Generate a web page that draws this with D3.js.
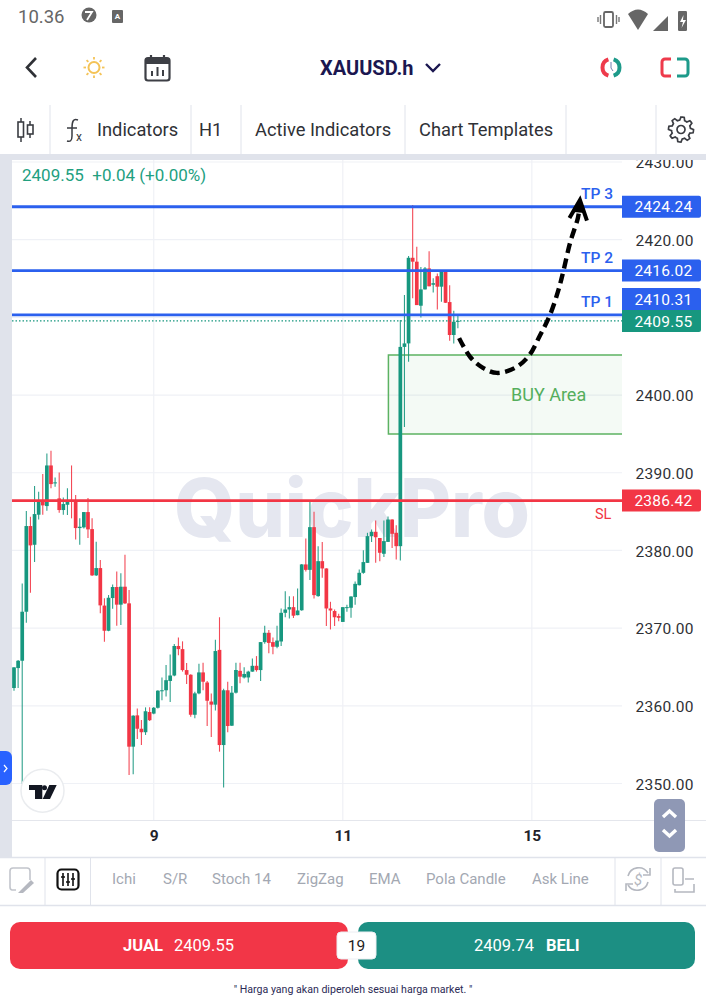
<!DOCTYPE html>
<html><head><meta charset="utf-8">
<script src="https://cdn.jsdelivr.net/npm/d3@7/dist/d3.min.js"></script>
<style>html,body{margin:0;padding:0;background:#fff}svg{display:block;font-family:Roboto,sans-serif}</style>
</head><body><svg id="c" width="706" height="1006"></svg>
<script>
const opens=[2362.29,2364.86,2365.8,2372.11,2383.14,2380.73,2384.6,2386.4,2385.71,2390.94,2388.7,2386.7,2385.2,2385.88,2386.5,2386.48,2382.88,2382.97,2384.94,2382.75,2376.79,2377.73,2372.9,2369.66,2373.87,2375.29,2373.02,2375.33,2373.19,2354.74,2358.77,2357.05,2356.6,2359.2,2359.0,2359.75,2361.95,2362.0,2363.2,2363.9,2367.7,2367.3,2364.6,2364.0,2358.85,2361.6,2364.3,2363.0,2360.55,2360.15,2367.2,2354.95,2362.0,2357.44,2361.69,2364.5,2363.65,2363.65,2364.4,2365.15,2364.6,2368.2,2369.4,2368.2,2367.6,2368.28,2371.97,2372.4,2372.7,2371.67,2372.3,2378.2,2377.5,2383.0,2374.12,2378.62,2377.68,2372.53,2372.2,2371.55,2370.8,2372.6,2372.62,2374.0,2375.53,2377.12,2378.4,2381.84,2382.4,2381.6,2379.57,2381.1,2383.98,2382.27,2380.55,2406.2,2406.65,2417.67,2417.17,2411.5,2413.6,2416.3,2414.2,2415.3,2413.95,2415.95,2411.97,2407.73,2409.51];
const highs=[2364.95,2365.9,2375.76,2385.07,2384.34,2388.28,2387.55,2389.83,2392.49,2392.83,2389.4,2390.04,2386.83,2388.0,2390.94,2387.12,2384.13,2384.94,2386.74,2384.13,2381.12,2378.76,2373.84,2374.26,2375.6,2377.3,2377.05,2379.45,2374.9,2358.8,2359.67,2358.17,2359.8,2359.8,2359.85,2362.0,2363.66,2365.25,2366.6,2367.95,2368.8,2368.3,2365.5,2364.05,2361.8,2365.4,2365.55,2363.2,2361.6,2368.5,2371.4,2362.2,2363.1,2362.55,2365.55,2365.55,2364.95,2364.5,2366.1,2366.4,2368.2,2370.3,2369.75,2368.8,2370.3,2372.53,2374.76,2374.1,2374.1,2375.1,2378.25,2381.54,2386.43,2384.97,2380.55,2381.07,2377.7,2373.39,2372.4,2371.85,2372.7,2373.0,2374.1,2376.0,2377.55,2380.04,2382.27,2382.7,2383.86,2381.6,2383.86,2384.37,2384.0,2383.25,2409.65,2412.87,2417.9,2424.45,2419.1,2416.5,2416.5,2418.5,2415.05,2415.65,2416.1,2416.0,2414.15,2410.85,2410.2];
const lows=[2361.94,2362.29,2349.93,2370.7,2374.56,2378.5,2383.99,2384.6,2385.11,2388.0,2388.2,2384.86,2384.6,2384.56,2384.13,2381.42,2380.73,2382.83,2381.6,2376.7,2376.7,2371.9,2368.25,2369.6,2372.5,2370.3,2370.4,2373.1,2351.1,2351.18,2355.72,2354.95,2356.25,2358.05,2358.9,2359.65,2360.7,2361.2,2360.5,2363.8,2366.5,2364.4,2362.8,2358.6,2358.4,2361.5,2362.0,2357.4,2356.0,2359.4,2354.1,2349.5,2356.6,2357.4,2361.6,2362.9,2363.5,2363.0,2364.4,2364.4,2363.2,2368.0,2366.75,2366.65,2367.4,2367.7,2371.4,2371.25,2371.3,2371.67,2372.25,2377.3,2376.18,2373.8,2374.03,2376.48,2370.26,2369.83,2370.26,2370.9,2370.8,2372.1,2371.33,2373.0,2375.5,2377.0,2378.4,2381.1,2378.4,2378.6,2379.14,2381.1,2380.3,2378.84,2378.7,2395.9,2404.3,2412.45,2411.58,2410.0,2413.6,2414.0,2413.2,2411.0,2412.0,2411.85,2407.0,2406.65,2408.6];
const closes=[2364.95,2365.8,2372.11,2383.14,2380.65,2384.68,2386.4,2385.8,2390.94,2388.54,2388.76,2385.2,2385.97,2386.48,2386.3,2382.88,2383.05,2384.94,2382.71,2376.79,2377.73,2372.93,2369.66,2373.91,2375.29,2373.02,2375.33,2373.19,2354.74,2358.73,2357.05,2356.6,2359.3,2358.15,2359.75,2361.95,2362.0,2363.3,2363.9,2367.7,2367.3,2364.6,2364.0,2358.85,2361.6,2364.3,2363.1,2360.65,2360.15,2367.05,2354.95,2362.0,2357.4,2361.69,2364.61,2363.75,2364.1,2364.4,2365.15,2364.6,2368.2,2369.4,2368.1,2367.6,2368.4,2371.97,2372.4,2372.7,2371.6,2372.27,2378.2,2377.5,2383.0,2374.25,2378.62,2377.68,2372.53,2372.27,2371.4,2371.33,2372.7,2372.7,2374.07,2375.7,2377.12,2378.5,2381.84,2382.4,2381.7,2379.7,2381.2,2383.98,2382.14,2380.55,2406.2,2406.65,2417.67,2417.17,2411.58,2413.6,2416.3,2414.0,2414.4,2413.95,2415.95,2411.88,2407.73,2409.44,2409.55];

const priceTicks=[2350,2360,2370,2380,2390,2400,2410,2420,2430];
const priceLabels=[2350,2360,2370,2380,2390,2400,2420,2430];
const dayTicks=[34,80,126];
const dayLabels=["9","11","15"];
const levelPrices=[2424.24,2416.02,2410.31];
const levelNames=["TP 3","TP 2","TP 1"];
const slPrice=2386.42, lastPrice=2409.55;
const buyZone=[2395,2405.15];
const buyZoneStart=91.1;
const pathIdx=[108.3,111,114.1,117.5,121.9,125.2,128,130.4,132.4,133.6,135.3,137.2,137.7];
const pathPrice=[2407.33,2404.9,2403.5,2402.85,2403.5,2405,2407.7,2410.3,2413.4,2415.8,2419.6,2422.8,2424.45];
const stripItems=["Ichi","S/R","Stoch 14","ZigZag","EMA","Pola Candle","Ask Line"];
const stripX=[112,163,212,297,369,426,532];
const topTabs=["Indicators","H1","Active Indicators","Chart Templates"];
const topTabX=[97,199,255,419];

const GREEN="#17977f",RED="#f23645",BLUE="#2b60ee",AXIS="#2f3136",LINE="#e0e3eb";
const svg=d3.select("#c");
const defs=svg.append("defs");
defs.append("clipPath").attr("id","plot").append("rect").attr("x",12).attr("y",160).attr("width",610).attr("height",660);
defs.append("clipPath").attr("id","axisClip").append("rect").attr("x",622).attr("y",160).attr("width",84).attr("height",660);

const x=d3.scaleLinear().domain([0,108]).range([14,14+108*4.11]);
const y=d3.scaleLinear().domain([2350,2430]).range([783.5,162]);

// ---- frame
svg.append("rect").attr("x",0).attr("y",154).attr("width",706).attr("height",6).attr("fill",LINE);
svg.append("rect").attr("x",0).attr("y",154).attr("width",12).attr("height",703).attr("fill",LINE);

const plot=svg.append("g").attr("clip-path","url(#plot)");
// grid
plot.append("g").selectAll("line").data(priceTicks).join("line")
  .attr("x1",12).attr("x2",622).attr("y1",d=>y(d)).attr("y2",d=>y(d)).attr("stroke","#eff1f6").attr("stroke-width",1.2);
plot.append("g").selectAll("line").data(dayTicks).join("line")
  .attr("x1",d=>x(d)).attr("x2",d=>x(d)).attr("y1",160).attr("y2",820).attr("stroke","#eff1f6").attr("stroke-width",1.2);
// watermark
plot.append("text").text("QuickPro").attr("x",352).attr("y",537).attr("text-anchor","middle").attr("font-family","Inter")
  .attr("font-size",81).attr("font-weight",800).attr("fill","#e5e7f0").attr("textLength",356).attr("lengthAdjust","spacingAndGlyphs");
// buy zone
plot.append("rect").attr("x",x(buyZoneStart)).attr("y",y(buyZone[1])).attr("width",622-x(buyZoneStart)).attr("height",y(buyZone[0])-y(buyZone[1]))
  .attr("fill","#4caf50").attr("fill-opacity",.06);
plot.append("path").attr("d",`M622,${y(buyZone[1])}H${x(buyZoneStart)}V${y(buyZone[0])}H622`).attr("fill","none").attr("stroke","#5cb262").attr("stroke-width",1.5);
plot.append("text").text("BUY Area").attr("x",511).attr("y",400.5).attr("font-size",18).attr("fill","#55ae5c");
// candles
const idx=d3.range(opens.length);
const col=i=>closes[i]>=opens[i]?GREEN:RED;
const gc=plot.append("g");
gc.selectAll("line").data(idx).join("line").attr("x1",i=>x(i)).attr("x2",i=>x(i)).attr("y1",i=>y(highs[i])).attr("y2",i=>y(lows[i]))
  .attr("stroke",col).attr("stroke-width",1.1).attr("stroke-opacity",.9);
gc.selectAll("rect").data(idx).join("rect").attr("x",i=>x(i)-1.85).attr("width",3.7)
  .attr("y",i=>Math.min(y(opens[i]),y(closes[i]))).attr("height",i=>Math.max(1,Math.abs(y(opens[i])-y(closes[i])))).attr("fill",col);
// levels
plot.append("g").selectAll("line").data(levelPrices).join("line").attr("x1",12).attr("x2",622).attr("y1",d=>y(d)).attr("y2",d=>y(d)).attr("stroke",BLUE).attr("stroke-width",2.8);
plot.append("line").attr("x1",12).attr("x2",622).attr("y1",y(slPrice)).attr("y2",y(slPrice)).attr("stroke",RED).attr("stroke-width",2.8);
plot.append("line").attr("x1",12).attr("x2",622).attr("y1",y(lastPrice)).attr("y2",y(lastPrice)).attr("stroke",GREEN).attr("stroke-width",1.2).attr("stroke-dasharray","1.5 2");
// labels on levels
const tpLabelY=[193,257,301];
plot.append("g").selectAll("text").data(levelNames).join("text").text(d=>d).attr("x",581).attr("y",(d,i)=>tpLabelY[i]+5.5)
  .attr("font-size",15.5).attr("font-weight",500).attr("fill",BLUE);
plot.append("text").text("SL").attr("x",595).attr("y",518.5).attr("font-size",14.5).attr("fill",RED);
// forecast path
const pl=d3.line().x(i=>x(pathIdx[i])).y(i=>y(pathPrice[i])).curve(d3.curveCatmullRom);
plot.append("path").datum(d3.range(pathIdx.length)).attr("d",pl).attr("fill","none").attr("stroke","#000").attr("stroke-width",4.4).attr("stroke-dasharray","10 5.5");
const tipX=x(137.7),tipY=y(pathPrice[pathPrice.length-1])-5;
plot.append("path").attr("d",`M${tipX-10.5},${tipY+18}L${tipX},${tipY}L${tipX+7},${tipY+20.5}`).attr("fill","none").attr("stroke","#000").attr("stroke-width",4);
plot.append("path").attr("d",`M${tipX-6},${tipY+12}L${tipX},${tipY}L${tipX+4},${tipY+13}Z`).attr("fill","#000");
// OHLC legend
svg.append("text").attr("x",22).attr("y",181).attr("font-size",17).attr("fill","#22a07f").attr("xml:space","preserve").text("2409.55  +0.04 (+0.00%)");
// TV logo
svg.append("circle").attr("cx",42.5).attr("cy",790.7).attr("r",21.5).attr("fill","#fff").attr("stroke","#eaecef").attr("stroke-width",1.5);
svg.append("path").attr("fill","#131722").attr("d","M29,785H42.3V799H35V790H29ZM49.3,785H56.7L50,799H42.7Z");
svg.append("circle").attr("cx",44.5).attr("cy",787.7).attr("r",2.5).attr("fill","#131722");
// side tab
svg.append("path").attr("d","M0,751H6a6,6 0 0 1 6,6V779a6,6 0 0 1 -6,6H0Z").attr("fill","#2962ff");
svg.append("path").attr("d","M4,765L7,768.5L4,772").attr("fill","none").attr("stroke","#fff").attr("stroke-width",1.2);

// ---- axes
const yAxis=d3.axisRight(y).tickValues(priceLabels).tickFormat(d3.format(".2f")).tickSize(0).tickPadding(0);
const ga=svg.append("g").attr("clip-path","url(#axisClip)").append("g").attr("transform","translate(635.5,0.7)").call(yAxis);
ga.select(".domain").remove();
ga.selectAll("text").attr("font-family","Roboto").attr("font-size",15.5).attr("fill",AXIS).attr("letter-spacing",.25);
const xAxis=d3.axisBottom(x).tickValues(dayTicks).tickFormat((d,i)=>dayLabels[i]).tickSize(0).tickPadding(0);
const gx=svg.append("g").attr("transform","translate(0,830)").call(xAxis);
gx.select(".domain").remove();
gx.selectAll("text").attr("font-family","Roboto").attr("font-size",15.5).attr("font-weight",700).attr("fill","#1f2229");
svg.append("line").attr("x1",12).attr("x2",706).attr("y1",820.5).attr("y2",820.5).attr("stroke","#e4e6ec");
// price tags
const tags=[[2424.24,BLUE,y(2424.24)],[2416.02,BLUE,y(2416.02)],[2410.31,BLUE,299],[2409.55,GREEN,321],[2386.42,RED,y(2386.42)]];
const gt=svg.append("g").selectAll("g").data(tags).join("g").attr("transform",d=>`translate(622,${d[2]-11})`);
gt.append("path").attr("d",(d,i)=>{
  if(i===2) return "M0,0H77a2,2 0 0 1 2,2V22H0Z";
  if(i===3) return "M0,0H79V20a2,2 0 0 1 -2,2H0Z";
  return "M0,0H77a2,2 0 0 1 2,2V20a2,2 0 0 1 -2,2H0Z";}).attr("fill",d=>d[1]);
gt.append("text").attr("x",70.5).attr("y",16.5).attr("text-anchor","end").attr("font-size",15.5).attr("letter-spacing",.25).attr("fill","#fff").text(d=>d3.format(".2f")(d[0]));
// scroll button
svg.append("rect").attr("x",654).attr("y",799).attr("width",31).attr("height",53).attr("rx",5).attr("fill","#8f98b5");
svg.append("path").attr("d","M663,817L669.5,811L676,817M663,830L669.5,836L676,830").attr("fill","none").attr("stroke","#fff").attr("stroke-width",3.4);

// ---- status bar
svg.append("text").attr("x",18).attr("y",23).attr("font-size",18.5).attr("fill","#666").text("10.36");
svg.append("circle").attr("cx",89).attr("cy",15).attr("r",7.5).attr("fill","#666");
svg.append("path").attr("d","M85,12H92L87,20").attr("fill","none").attr("stroke","#fff").attr("stroke-width",1.8);
svg.append("rect").attr("x",112).attr("y",10).attr("width",11).attr("height",13).attr("rx",1).attr("fill","#666");
svg.append("text").attr("x",117.5).attr("y",18.5).attr("text-anchor","middle").attr("font-size",8).attr("font-weight",700).attr("fill","#fff").text("A");
svg.append("rect").attr("x",604).attr("y",12).attr("width",9).attr("height",15).attr("rx",1.5).attr("fill","none").attr("stroke","#666").attr("stroke-width",1.8);
svg.append("path").attr("d","M600.5,15V24M616.5,15V24M598,17V22M619,17V22").attr("stroke","#777").attr("stroke-width",1.4);
svg.append("path").attr("d","M628,15Q638,6 648,15L638,31Z").attr("transform","translate(0,-1)").attr("fill","#666");
svg.append("path").attr("d","M653,31L668,16V31Z").attr("fill","#666");
svg.append("rect").attr("x",678).attr("y",11).attr("width",9).attr("height",20).attr("rx",1.2).attr("fill","#666");
svg.append("path").attr("d","M683.5,15L680,22H683L681.5,28L686,20H683Z").attr("fill","#fff");

// ---- app bar
svg.append("path").attr("d","M36,58L27,67.5L36,77").attr("fill","none").attr("stroke","#2f3136").attr("stroke-width",2.6);
const sun=svg.append("g").attr("transform","translate(94,67.5)");
sun.append("circle").attr("r",5.5).attr("fill","none").attr("stroke","#f4c356").attr("stroke-width",2);
sun.selectAll("line").data(d3.range(8)).join("line").attr("x1",d=>8*Math.cos(d*Math.PI/4)).attr("y1",d=>8*Math.sin(d*Math.PI/4))
  .attr("x2",d=>10.5*Math.cos(d*Math.PI/4)).attr("y2",d=>10.5*Math.sin(d*Math.PI/4)).attr("stroke","#f4c356").attr("stroke-width",1.8);
svg.append("rect").attr("x",145.5).attr("y",58).attr("width",24).attr("height",22.5).attr("rx",2.5).attr("fill","none").attr("stroke","#3d3f45").attr("stroke-width",2.2);
svg.append("rect").attr("x",145.5).attr("y",58).attr("width",24).attr("height",6).attr("fill","#3d3f45");
svg.append("path").attr("d","M151,55V60M164,55V60").attr("stroke","#3d3f45").attr("stroke-width",2.2);
svg.append("path").attr("d","M152,76V71M157.5,76V67M163,76V70").attr("stroke","#3d3f45").attr("stroke-width",2);
svg.append("text").attr("x",320).attr("y",75).attr("font-size",20).attr("font-weight",700).attr("fill","#1b1750").text("XAUUSD.h");
svg.append("path").attr("d","M426,64L433,71L440,64").attr("fill","none").attr("stroke","#1b1750").attr("stroke-width",2.4);
const arc=d3.arc().innerRadius(6.5).outerRadius(10.5);
svg.append("path").attr("transform","translate(611,67.5)").attr("fill","#ee3a4b").attr("d",arc({startAngle:Math.PI*1.1,endAngle:Math.PI*1.9}));
svg.append("path").attr("transform","translate(611,67.5)").attr("fill","#1d9a8a").attr("d",arc({startAngle:Math.PI*.1,endAngle:Math.PI*.9}));
svg.append("path").attr("d","M611,62V68L613,71").attr("fill","none").attr("stroke","#6f7fb0").attr("stroke-width",1);
svg.append("path").attr("d","M671,59H665a3,3 0 0 0 -3,3V73a3,3 0 0 0 3,3H671").attr("fill","none").attr("stroke","#ee3a4b").attr("stroke-width",3);
svg.append("path").attr("d","M677,59H685a3,3 0 0 1 3,3V73a3,3 0 0 1 -3,3H677").attr("fill","none").attr("stroke","#1d9a8a").attr("stroke-width",3);

// ---- tool bar
svg.append("g").selectAll("line").data([50,191,241,405,566,656]).join("line").attr("x1",d=>d).attr("x2",d=>d).attr("y1",105).attr("y2",154).attr("stroke",LINE);
svg.append("g").selectAll("text").data(topTabs).join("text").attr("x",(d,i)=>topTabX[i]).attr("y",136).attr("font-size",18.3).attr("fill","#2f3136").text(d=>d);
svg.append("path").attr("d","M21,118V142M30,121V138").attr("stroke","#3a3c42").attr("stroke-width",1.5);
svg.append("rect").attr("x",18).attr("y",122).attr("width",5.5).attr("height",15).attr("fill","#fff").attr("stroke","#3a3c42").attr("stroke-width",1.6);
svg.append("rect").attr("x",27.5).attr("y",125).attr("width",5.5).attr("height",9).attr("fill","#fff").attr("stroke","#3a3c42").attr("stroke-width",1.6);
svg.append("path").attr("d","M78,120C73,118 72,122 72,128V136C72,141 70,142 67,141M67,128H77").attr("fill","none").attr("stroke","#3a3c42").attr("stroke-width",1.5);
svg.append("text").attr("x",76).attr("y",141).attr("font-size",12).attr("fill","#3a3c42").text("x");
const gear=svg.append("g").attr("transform","translate(681,129.5)");
gear.append("path").attr("fill","none").attr("stroke","#3a3c42").attr("stroke-width",1.7).attr("d",
  d3.lineRadial().curve(d3.curveLinearClosed)(d3.range(48).map(k=>[k/48*2*Math.PI,(k%6<3)?12.5:9.5])));
gear.append("circle").attr("r",4).attr("fill","none").attr("stroke","#3a3c42").attr("stroke-width",1.7);

// ---- lower strip
svg.append("path").attr("d","M0,857.5H706M0,905.5H706").attr("stroke",LINE).attr("stroke-width",1.4);
svg.append("g").selectAll("line").data([45,90.5,615,661]).join("line").attr("x1",d=>d).attr("x2",d=>d).attr("y1",858).attr("y2",905).attr("stroke",LINE);
svg.append("g").selectAll("text").data(stripItems).join("text").attr("x",(d,i)=>stripX[i]).attr("y",884).attr("font-size",15).attr("fill","#a3a8b2").text(d=>d);
svg.append("path").attr("d","M16,890H12a3,3 0 0 1 -2,-3V871a3,3 0 0 1 3,-3H27a3,3 0 0 1 3,3V880").attr("fill","none").attr("stroke","#c2c5cc").attr("stroke-width",1.6);
svg.append("path").attr("d","M18,893L31,880L34,883L23,893Z").attr("fill","#b5b8c0");
svg.append("rect").attr("x",57.5).attr("y",869.5).attr("width",21).attr("height",20).attr("rx",4).attr("fill","none").attr("stroke","#111").attr("stroke-width",2.2);
svg.append("path").attr("d","M63,873V886M68,873V886M73,873V886M61,877H65M66,882H70M71,879H75").attr("stroke","#111").attr("stroke-width",1.6);
svg.append("path").attr("d","M628,876A11,11 0 0 1 648,873M648,882A11,11 0 0 1 628,885").attr("fill","none").attr("stroke","#b5b8c0").attr("stroke-width",1.6);
svg.append("path").attr("d","M650,868V875H643M626,891V884H633").attr("fill","none").attr("stroke","#b5b8c0").attr("stroke-width",1.6);
svg.append("text").attr("x",638).attr("y",885).attr("text-anchor","middle").attr("font-size",15).attr("font-style","italic").attr("fill","#b5b8c0").text("$");
svg.append("rect").attr("x",673).attr("y",868).attr("width",10).attr("height",17).attr("rx",2).attr("fill","none").attr("stroke","#b5b8c0").attr("stroke-width",1.6);
svg.append("path").attr("d","M685,879H694M675,889V892H694V884").attr("fill","none").attr("stroke","#b5b8c0").attr("stroke-width",1.6);

// ---- trade buttons
svg.append("rect").attr("x",10).attr("y",922).attr("width",338).attr("height",47).attr("rx",10).attr("fill","#f23647");
svg.append("rect").attr("x",358).attr("y",922).attr("width",337).attr("height",47).attr("rx",10).attr("fill","#1c8f83");
svg.append("rect").attr("x",337).attr("y",932).attr("width",39).attr("height",27).attr("rx",4).attr("fill","#fff").attr("stroke","#eceef2");
svg.append("text").attr("x",356.5).attr("y",950.5).attr("text-anchor","middle").attr("font-size",15.5).attr("fill","#222").text("19");
const bt=svg.append("g").attr("font-size",16.5).attr("fill","#fff");
bt.append("text").attr("x",123).attr("y",951).attr("font-weight",700).text("JUAL");
bt.append("text").attr("x",174).attr("y",951).text("2409.55");
bt.append("text").attr("x",474).attr("y",951).text("2409.74");
bt.append("text").attr("x",546).attr("y",951).attr("font-weight",700).text("BELI");
svg.append("text").attr("x",353).attr("y",993).attr("text-anchor","middle").attr("font-size",10.6).attr("fill","#2b2a55").text("\" Harga yang akan diperoleh sesuai harga market. \"");
</script></body></html>
